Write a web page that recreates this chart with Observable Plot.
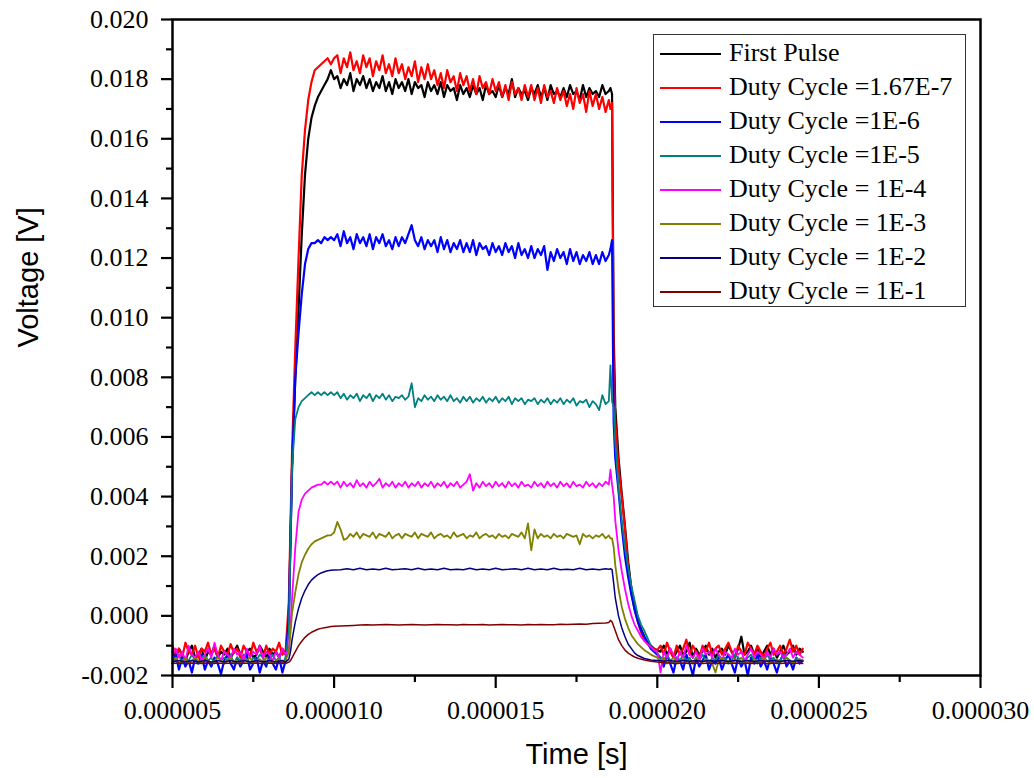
<!DOCTYPE html>
<html>
<head>
<meta charset="utf-8">
<script src="https://cdn.jsdelivr.net/npm/d3@7"></script>
<script src="https://cdn.jsdelivr.net/npm/@observablehq/plot@0.6"></script>
<style>
  html, body { margin: 0; padding: 0; background: #fff; }
  #wrap { position: relative; width: 1034px; height: 778px; }
  #legend { position: absolute; left: 653px; top: 34px; width: 313px; height: 273px; box-sizing: border-box;
            border: 1.5px solid #333; background: #fff; font-family: "Liberation Serif", serif; font-size: 26px; padding-top: 1px; }
  .row { position: relative; height: 34px; line-height: 34px; }
  .swatch { position: absolute; left: 6px; top: 17px; width: 61px; height: 1.5px; }
  .lab { position: absolute; left: 75px; top: 0; white-space: nowrap; color: #000; }
</style>
</head>
<body>
<div id="wrap"></div>
<script>
// Dense time grid (microseconds) for the noisy traces
const timeDenseUs = [
  5.0,5.1,5.2,5.3,5.4,5.5,5.6,5.7,5.8,5.9,
  6.0,6.1,6.2,6.3,6.4,6.5,6.6,6.7,6.8,6.9,
  7.0,7.1,7.2,7.3,7.4,7.5,7.6,7.7,7.8,7.9,
  8.0,8.1,8.2,8.3,8.4,8.5,
  8.6,8.65,8.7,8.8,8.9,9.0,9.1,9.2,9.3,9.4,9.5,9.6,9.7,9.8,9.9,10.0,
  10.1,10.2,10.3,10.4,10.5,10.6,10.7,10.8,10.9,11.0,
  11.1,11.2,11.3,11.4,11.5,11.6,11.7,11.8,11.9,12.0,
  12.1,12.2,12.3,12.4,12.5,12.6,12.7,12.8,12.9,13.0,
  13.1,13.2,13.3,13.4,13.5,13.6,13.7,13.8,13.9,14.0,
  14.1,14.2,14.3,14.4,14.5,14.6,14.7,14.8,14.9,15.0,
  15.1,15.2,15.3,15.4,15.5,15.6,15.7,15.8,15.9,16.0,
  16.1,16.2,16.3,16.4,16.5,16.6,16.7,16.8,16.9,17.0,
  17.1,17.2,17.3,17.4,17.5,17.6,17.7,17.8,17.9,18.0,
  18.1,18.2,18.3,18.4,18.5,
  18.55,18.6,18.65,18.7,18.8,18.9,19.0,19.1,19.2,19.3,19.4,19.5,19.6,19.7,19.8,19.9,20.0,
  20.1,20.2,20.3,20.4,20.5,20.6,20.7,20.8,20.9,21.0,
  21.1,21.2,21.3,21.4,21.5,21.6,21.7,21.8,21.9,22.0,
  22.1,22.2,22.3,22.4,22.5,22.6,22.7,22.8,22.9,23.0,
  23.1,23.2,23.3,23.4,23.5,23.6,23.7,23.8,23.9,24.0,
  24.1,24.2,24.3,24.4,24.5
];
// Coarse time grid (microseconds) for the smooth traces
const timeCoarseUs = [
  5.0,5.2,5.4,5.6,5.8,6.0,6.2,6.4,6.6,6.8,7.0,7.2,7.4,7.6,7.8,8.0,8.2,8.4,8.5,
  8.6,8.65,8.7,8.8,8.9,9.0,9.1,9.2,9.3,9.4,9.5,9.6,9.7,9.8,9.9,10.0,
  10.2,10.4,10.6,10.8,11.0,11.2,11.4,11.6,11.8,12.0,
  12.2,12.4,12.6,12.8,13.0,13.2,13.4,13.6,13.8,14.0,
  14.2,14.4,14.6,14.8,15.0,15.2,15.4,15.6,15.8,16.0,
  16.2,16.4,16.6,16.8,17.0,17.2,17.4,17.6,17.8,18.0,
  18.2,18.4,
  18.5,18.55,18.6,18.65,18.7,18.8,18.9,19.0,19.1,19.2,19.3,19.4,19.6,19.8,20.0,
  20.2,20.4,20.6,20.8,21.0,21.2,21.4,21.6,21.8,22.0,
  22.2,22.4,22.6,22.8,23.0,23.2,23.4,23.6,23.8,24.0,
  24.2,24.4,24.5
];

// Voltages in millivolts (dense grid)
const firstPulse = [
  -1.2,-1.4,-1.1,-1.3,-1.5,-1.2,-1.0,-1.4,-1.3,-1.1,
  -1.5,-1.2,-1.3,-1.0,-1.4,-1.2,-1.3,-1.1,-1.4,-1.2,
  -1.0,-1.3,-1.5,-1.2,-1.1,-1.4,-1.3,-1.0,-1.2,-1.4,
  -1.1,-1.3,-1.2,-1.4,-1.1,-1.3,
  0.0,2.5,5.0,8.0,10.3,12.8,14.8,16.0,16.7,17.1,17.4,17.6,17.8,18.0,18.3,18.0,
  18.1,17.7,18.0,17.8,18.2,17.6,18.0,17.8,18.1,17.7,
  18.0,17.6,17.9,17.7,18.1,17.6,17.9,17.5,18.0,17.7,
  17.9,17.6,18.0,17.5,17.9,17.7,17.8,17.4,17.9,17.6,
  17.8,17.5,17.9,17.4,17.8,17.6,17.7,17.3,17.8,17.5,
  17.7,17.4,17.8,17.5,17.7,17.3,17.8,17.5,17.6,17.4,
  17.8,17.4,17.7,17.5,18.0,17.4,17.7,17.5,17.6,17.3,
  17.7,17.5,17.8,17.4,17.7,17.3,17.8,17.5,17.6,17.4,
  17.7,17.4,17.8,17.5,17.6,17.3,17.8,17.4,17.7,17.5,
  17.6,17.4,17.8,17.5,17.6,
  17.7,17.5,9.5,7.0,5.3,4.1,3.0,1.8,0.9,0.3,-0.1,-0.45,-0.7,-0.9,-1.0,-1.1,-1.15,
  -1.2,-1.0,-1.3,-1.1,-1.4,-1.2,-1.0,-1.3,-1.2,-0.9,
  -1.4,-1.1,-1.3,-1.2,-1.0,-1.3,-1.1,-1.4,-1.2,-1.1,
  -1.3,-1.0,-1.2,-1.4,-1.1,-0.7,-1.3,-1.2,-1.0,-1.3,
  -1.1,-1.4,-1.2,-1.0,-1.3,-1.1,-1.4,-1.2,-1.0,-1.3,
  -1.2,-1.0,-1.3,-1.1,-1.2
];
const duty167e7 = [
  -1.0,-1.3,-1.1,-1.4,-0.9,-1.2,-1.3,-1.0,-1.4,-1.1,
  -1.2,-0.9,-1.3,-1.1,-1.4,-1.0,-1.2,-1.3,-0.95,-1.25,
  -1.1,-1.4,-1.0,-1.2,-1.35,-0.9,-1.2,-1.1,-1.4,-1.0,
  -1.3,-1.1,-1.2,-0.9,-1.3,-1.2,
  0.5,3.0,5.5,9.0,12.0,14.8,16.3,17.3,17.9,18.3,18.4,18.5,18.6,18.7,18.5,18.7,
  18.8,18.2,18.7,18.4,18.9,18.3,18.6,18.2,18.8,18.4,
  18.7,18.1,18.6,18.3,18.8,18.2,18.5,18.1,18.7,18.2,
  18.5,18.0,18.4,18.1,18.6,17.9,18.4,18.0,18.5,18.0,
  18.3,17.8,18.2,17.7,18.3,17.9,18.1,17.6,18.2,17.8,
  18.1,17.6,18.0,17.5,18.1,17.7,17.9,17.5,18.0,17.6,
  17.9,17.4,17.8,17.3,17.9,17.5,17.7,17.3,17.8,17.4,
  17.8,17.3,17.7,17.2,17.8,17.4,17.6,17.2,17.7,17.3,
  17.6,17.1,17.5,17.0,17.7,17.2,17.5,16.9,17.6,17.1,
  17.5,17.0,17.4,16.9,17.3,
  17.0,17.2,8.5,6.5,5.0,4.0,2.9,1.6,0.8,0.2,-0.2,-0.55,-0.8,-0.95,-1.05,-1.1,-1.15,
  -1.0,-1.3,-0.9,-1.2,-1.4,-1.0,-1.3,-1.1,-0.8,-1.3,
  -1.0,-1.2,-1.4,-1.0,-1.2,-0.9,-1.3,-1.1,-1.0,-1.3,
  -1.1,-0.9,-1.2,-1.4,-1.0,-1.2,-1.3,-0.9,-1.1,-1.3,
  -1.0,-1.2,-1.4,-1.1,-0.9,-1.3,-1.2,-1.0,-1.3,-1.1,
  -0.8,-1.2,-1.0,-1.3,-1.1
];
const duty1e6 = [
  -1.6,-1.3,-1.8,-1.4,-1.7,-1.5,-1.9,-1.4,-1.6,-1.3,
  -1.8,-1.5,-1.7,-1.4,-1.6,-1.95,-1.5,-1.3,-1.6,-1.8,
  -1.4,-1.7,-1.5,-1.3,-1.8,-1.6,-1.4,-1.9,-1.5,-1.7,
  -1.3,-1.6,-1.8,-1.4,-1.9,-1.5,
  0.0,2.5,5.0,8.0,9.5,10.8,11.8,12.3,12.5,12.5,12.6,12.5,12.7,12.6,12.7,12.6,
  12.8,12.4,12.9,12.5,12.7,12.3,12.8,12.5,12.7,12.4,
  12.8,12.3,12.7,12.5,12.8,12.4,12.6,12.3,12.7,12.4,
  12.7,12.5,12.8,13.1,12.6,12.4,12.7,12.3,12.6,12.4,
  12.6,12.2,12.7,12.3,12.6,12.2,12.5,12.3,12.6,12.2,
  12.5,12.2,12.6,12.1,12.5,12.3,12.4,12.1,12.5,12.2,
  12.4,12.1,12.5,12.2,12.4,12.0,12.5,12.1,12.3,12.0,
  12.4,12.0,12.3,12.1,12.4,11.6,12.2,11.9,12.3,12.0,
  12.2,11.8,12.3,11.9,12.2,11.8,12.1,11.9,12.2,11.8,
  12.1,11.8,12.2,11.9,12.1,
  12.3,12.6,6.5,5.3,4.2,3.0,2.0,1.3,0.7,0.2,-0.2,-0.5,-0.7,-0.9,-1.1,-1.2,-1.3,
  -1.4,-1.7,-1.3,-1.6,-1.9,-1.4,-1.5,-1.8,-1.3,-1.6,
  -2.0,-1.4,-1.7,-1.5,-1.3,-1.8,-1.5,-1.6,-1.4,-1.8,
  -1.5,-1.3,-1.6,-1.9,-1.4,-1.7,-1.5,-2.0,-1.4,-1.6,
  -1.3,-1.7,-1.5,-1.8,-1.4,-1.6,-1.9,-1.5,-1.3,-1.7,
  -1.5,-1.8,-1.4,-1.6,-1.5
];
const duty1e5 = [
  -1.4,-1.5,-1.3,-1.6,-1.4,-1.5,-1.3,-1.5,-1.6,-1.4,
  -1.3,-1.5,-1.4,-1.6,-1.3,-1.5,-1.4,-1.5,-1.3,-1.6,
  -1.4,-1.5,-1.3,-1.5,-1.6,-1.4,-1.5,-1.3,-1.4,-1.6,
  -1.5,-1.3,-1.5,-1.4,-1.6,-1.4,
  -0.5,2.5,5.0,6.6,7.0,7.2,7.3,7.4,7.5,7.4,7.5,7.4,7.5,7.4,7.5,7.4,
  7.5,7.3,7.45,7.25,7.4,7.3,7.45,7.2,7.4,7.3,
  7.45,7.2,7.4,7.3,7.45,7.25,7.4,7.2,7.35,7.3,
  7.4,7.25,7.35,7.8,7.0,7.3,7.2,7.4,7.25,7.35,
  7.2,7.4,7.25,7.35,7.2,7.4,7.2,7.3,7.15,7.35,
  7.2,7.35,7.15,7.3,7.2,7.35,7.15,7.3,7.2,7.35,
  7.15,7.3,7.2,7.35,7.1,7.3,7.2,7.3,7.1,7.25,
  7.2,7.3,7.1,7.25,7.15,7.3,7.1,7.25,7.15,7.3,
  7.1,7.25,7.15,7.3,7.05,7.2,7.15,7.25,7.0,7.2,
  7.1,6.9,7.4,7.1,7.2,
  8.4,7.2,7.0,5.8,4.3,3.2,2.3,1.6,1.0,0.5,0.0,-0.3,-0.5,-0.75,-1.0,-1.15,-1.25,
  -1.4,-1.5,-1.3,-1.5,-1.6,-1.4,-1.5,-1.3,-1.5,-1.4,
  -1.6,-1.4,-1.5,-1.3,-1.5,-1.6,-1.4,-1.5,-1.3,-1.5,
  -1.4,-1.6,-1.5,-1.3,-1.4,-1.6,-1.5,-1.4,-1.3,-1.5,
  -1.6,-1.4,-1.5,-1.3,-1.5,-1.4,-1.6,-1.5,-1.3,-1.4,
  -1.5,-1.6,-1.4,-1.5,-1.5
];
const duty1e4 = [
  -1.3,-1.1,-1.4,-1.2,-1.5,-1.0,-1.3,-1.4,-1.2,-1.5,
  -1.3,-1.1,-1.4,-0.9,-1.3,-1.5,-1.2,-1.3,-1.4,-1.1,
  -1.3,-1.2,-1.5,-1.1,-1.4,-1.2,-1.3,-1.0,-1.4,-1.2,
  -1.3,-1.5,-1.2,-1.4,-1.1,-1.3,
  -1.1,-0.3,0.6,2.3,3.5,3.9,4.1,4.2,4.3,4.35,4.4,4.4,4.5,4.4,4.5,4.4,
  4.5,4.3,4.5,4.35,4.45,4.3,4.55,4.35,4.45,4.3,
  4.5,4.35,4.45,4.6,4.3,4.45,4.35,4.5,4.3,4.45,
  4.35,4.5,4.3,4.45,4.35,4.5,4.3,4.45,4.35,4.5,
  4.3,4.45,4.35,4.5,4.3,4.45,4.35,4.5,4.3,4.4,
  4.5,4.75,4.2,4.45,4.3,4.5,4.35,4.45,4.3,4.5,
  4.35,4.45,4.3,4.5,4.35,4.45,4.3,4.5,4.35,4.4,
  4.3,4.5,4.35,4.45,4.3,4.5,4.35,4.45,4.3,4.5,
  4.35,4.45,4.3,4.5,4.35,4.4,4.3,4.5,4.35,4.45,
  4.3,4.45,4.35,4.5,4.4,
  4.9,4.4,4.0,3.2,2.2,1.5,0.9,0.4,0.0,-0.3,-0.5,-0.7,-0.85,-0.95,-1.05,-1.15,-1.2,
  -1.9,-1.2,-1.4,-1.1,-1.3,-1.5,-1.2,-1.4,-1.0,-1.3,
  -1.4,-1.2,-1.5,-1.1,-1.3,-1.2,-1.4,-1.1,-1.3,-1.5,
  -1.2,-1.3,-1.4,-1.1,-1.3,-1.2,-1.5,-1.3,-1.1,-1.4,
  -1.2,-1.3,-1.5,-1.2,-1.4,-1.1,-1.3,-1.2,-1.4,-1.3,
  -1.1,-1.4,-1.2,-1.3,-1.4
];
const duty1e3 = [
  -1.5,-1.4,-1.6,-1.5,-1.4,-1.6,-1.5,-1.4,-1.5,-1.6,
  -1.4,-1.5,-1.6,-1.5,-1.4,-1.5,-1.6,-1.5,-1.4,-1.55,
  -1.5,-1.6,-1.45,-1.5,-1.4,-1.6,-1.5,-1.45,-1.55,-1.4,
  -1.5,-1.6,-1.5,-1.45,-1.55,-1.5,
  -1.2,-0.6,0.1,0.8,1.4,1.8,2.05,2.25,2.4,2.5,2.55,2.6,2.65,2.7,2.7,2.8,
  3.15,2.9,2.55,2.6,2.75,2.65,2.8,2.6,2.75,2.7,
  2.65,2.8,2.6,2.75,2.7,2.65,2.8,2.6,2.7,2.75,
  2.6,2.75,2.7,2.65,2.8,2.6,2.75,2.7,2.65,2.8,
  2.6,2.7,2.75,2.65,2.7,2.6,2.8,2.65,2.7,2.75,
  2.6,2.7,2.65,2.8,2.6,2.7,2.75,2.65,2.7,2.6,
  2.75,2.65,2.7,2.6,2.75,2.7,2.65,2.8,2.6,3.1,
  2.2,2.9,2.6,2.75,2.65,2.7,2.6,2.75,2.65,2.7,
  2.6,2.75,2.7,2.65,2.7,2.4,2.75,2.65,2.7,2.6,
  2.7,2.65,2.75,2.6,2.7,
  2.6,2.6,2.3,1.7,0.9,0.3,-0.1,-0.4,-0.65,-0.8,-0.95,-1.05,-1.15,-1.22,-1.3,-1.35,-1.4,
  -1.5,-1.4,-1.6,-1.5,-1.4,-1.6,-1.5,-1.45,-1.55,-1.5,
  -1.6,-1.4,-1.5,-1.55,-1.45,-1.5,-1.6,-1.9,-1.5,-1.4,
  -1.55,-1.5,-1.6,-1.45,-1.5,-1.4,-1.55,-1.5,-1.6,-1.45,
  -1.5,-1.55,-1.4,-1.5,-1.6,-1.5,-1.45,-1.55,-1.5,-1.4,
  -1.5,-1.6,-1.5,-1.45,-1.5
];
// Voltages in millivolts (coarse grid)
const duty1e2 = [
  -1.55,-1.5,-1.55,-1.5,-1.55,-1.5,-1.55,-1.5,-1.55,-1.5,-1.55,-1.5,-1.55,-1.5,-1.55,-1.5,-1.55,-1.5,-1.55,
  -1.45,-1.2,-0.8,-0.2,0.25,0.6,0.85,1.05,1.2,1.3,1.38,1.44,1.48,1.51,1.53,1.54,
  1.55,1.58,1.55,1.6,1.55,1.57,1.55,1.6,1.55,1.56,
  1.58,1.55,1.6,1.55,1.57,1.55,1.6,1.55,1.56,1.55,
  1.6,1.55,1.57,1.55,1.6,1.55,1.56,1.58,1.55,1.6,
  1.55,1.57,1.55,1.6,1.55,1.56,1.55,1.6,1.55,1.57,
  1.55,1.58,
  1.56,1.58,1.55,1.1,0.6,0.0,-0.4,-0.7,-0.95,-1.1,-1.25,-1.33,-1.43,-1.48,-1.5,
  -1.52,-1.5,-1.53,-1.5,-1.52,-1.5,-1.53,-1.5,-1.52,-1.5,
  -1.53,-1.5,-1.52,-1.5,-1.53,-1.5,-1.52,-1.5,-1.53,-1.5,
  -1.52,-1.5,-1.52
];
const duty1e1 = [
  -1.6,-1.58,-1.6,-1.58,-1.6,-1.58,-1.6,-1.58,-1.6,-1.58,-1.6,-1.58,-1.6,-1.58,-1.6,-1.58,-1.6,-1.58,-1.6,
  -1.55,-1.5,-1.4,-1.2,-1.0,-0.85,-0.72,-0.62,-0.55,-0.5,-0.45,-0.42,-0.4,-0.38,-0.36,-0.35,
  -0.34,-0.33,-0.32,-0.31,-0.3,-0.31,-0.3,-0.29,-0.3,-0.31,
  -0.3,-0.29,-0.3,-0.31,-0.3,-0.29,-0.3,-0.3,-0.31,-0.29,
  -0.3,-0.3,-0.29,-0.31,-0.3,-0.29,-0.3,-0.3,-0.31,-0.29,
  -0.3,-0.29,-0.3,-0.3,-0.28,-0.29,-0.28,-0.27,-0.28,-0.26,
  -0.25,-0.24,
  -0.22,-0.15,-0.2,-0.35,-0.5,-0.8,-1.0,-1.15,-1.25,-1.32,-1.38,-1.42,-1.48,-1.52,-1.55,
  -1.57,-1.58,-1.6,-1.58,-1.6,-1.58,-1.6,-1.58,-1.6,-1.58,
  -1.6,-1.58,-1.6,-1.58,-1.6,-1.58,-1.6,-1.58,-1.6,-1.58,
  -1.6,-1.58,-1.6
];

const seriesNames = ["First Pulse", "Duty Cycle =1.67E-7", "Duty Cycle =1E-6", "Duty Cycle =1E-5",
                     "Duty Cycle = 1E-4", "Duty Cycle = 1E-3", "Duty Cycle = 1E-2", "Duty Cycle = 1E-1"];
const seriesValues = [firstPulse, duty167e7, duty1e6, duty1e5, duty1e4, duty1e3, duty1e2, duty1e1];
const seriesTimes = [timeDenseUs, timeDenseUs, timeDenseUs, timeDenseUs, timeDenseUs, timeDenseUs, timeCoarseUs, timeCoarseUs];
const seriesColors = ["#000000", "#ff0000", "#0000ff", "#008080", "#ff00ff", "#808000", "#000080", "#800000"];
const seriesWidths = [2.2, 2.2, 2.2, 1.8, 1.8, 1.8, 1.5, 1.5];

const xTicks = [0.000005, 0.000010, 0.000015, 0.000020, 0.000025, 0.000030];
const xMinorTicks = [0.0000075, 0.0000125, 0.0000175, 0.0000225, 0.0000275];
const yTicks = [-0.002, 0.000, 0.002, 0.004, 0.006, 0.008, 0.010, 0.012, 0.014, 0.016, 0.018, 0.020];
const yMinorTicks = [-0.001, 0.001, 0.003, 0.005, 0.007, 0.009, 0.011, 0.013, 0.015, 0.017, 0.019];

const rows = [];
seriesNames.forEach((name, i) => {
  const times = seriesTimes[i], vals = seriesValues[i];
  const n = Math.min(times.length, vals.length);
  for (let j = 0; j < n; j++) rows.push({series: name, t: times[j] * 1e-6, v: vals[j] * 1e-3});
});

const lineMarks = seriesNames.map((name, i) =>
  Plot.line(rows.filter(d => d.series === name), {x: "t", y: "v", stroke: seriesColors[i], strokeWidth: seriesWidths[i]})
);

const chart = Plot.plot({
  width: 1034,
  height: 778,
  marginLeft: 172,
  marginRight: 54,
  marginTop: 19,
  marginBottom: 103,
  style: {fontFamily: "'Liberation Serif', 'Times New Roman', serif", fontSize: "26px", color: "#000", background: "#fff"},
  x: {domain: [0.000005, 0.000030]},
  y: {domain: [-0.002, 0.020]},
  marks: [
    ...lineMarks,
    Plot.frame({stroke: "#000", strokeWidth: 2.5}),
    Plot.axisX({ticks: xTicks, tickSize: 13, tickPadding: 12, strokeWidth: 2.2, label: null,
                tickFormat: d => d.toFixed(6), fill: "#000"}),
    Plot.axisX({ticks: xMinorTicks, tickSize: 7, strokeWidth: 2.2, label: null, tickFormat: () => ""}),
    Plot.axisY({ticks: yTicks, tickSize: 11, tickPadding: 13, strokeWidth: 2.2, label: null,
                tickFormat: d => d.toFixed(3), fill: "#000"}),
    Plot.axisY({ticks: yMinorTicks, tickSize: 6, strokeWidth: 2.2, label: null, tickFormat: () => ""}),
    Plot.text(["Voltage [V]"], {text: d => d, frameAnchor: "left", dx: -144, rotate: -90, lineAnchor: "middle",
                                fontFamily: "'Liberation Sans', Arial, sans-serif", fontSize: 29, fill: "#000"}),
    Plot.text(["Time [s]"], {text: d => d, frameAnchor: "bottom", dy: 79, lineAnchor: "middle",
                             fontFamily: "'Liberation Sans', Arial, sans-serif", fontSize: 29, fill: "#000"})
  ]
});

const wrap = document.getElementById("wrap");
wrap.appendChild(chart);

const legend = document.createElement("div");
legend.id = "legend";
seriesNames.forEach((name, i) => {
  const row = document.createElement("div");
  row.className = "row";
  const sw = document.createElement("div");
  sw.className = "swatch";
  sw.style.background = seriesColors[i];
  const lab = document.createElement("div");
  lab.className = "lab";
  lab.textContent = name;
  row.appendChild(sw);
  row.appendChild(lab);
  legend.appendChild(row);
});
wrap.appendChild(legend);
</script>
</body>
</html>
